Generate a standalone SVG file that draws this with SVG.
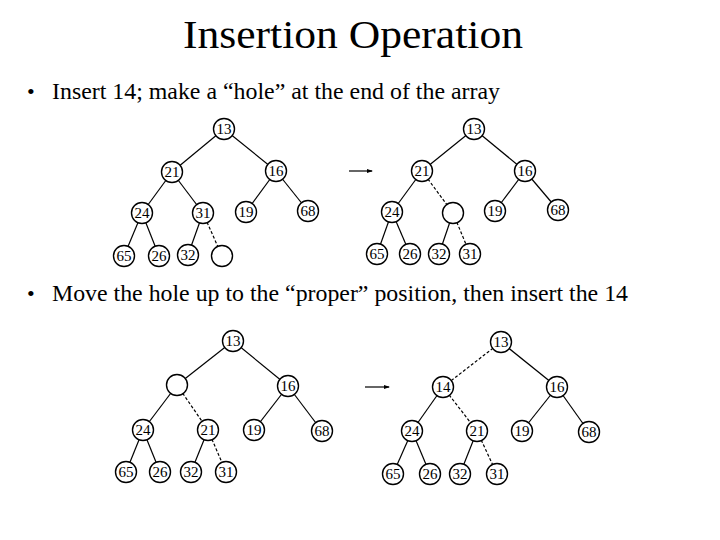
<svg xmlns="http://www.w3.org/2000/svg" width="720" height="540" viewBox="0 0 720 540">
<defs>
<style>
.t{font-family:"Liberation Serif","Times New Roman",serif;fill:#000}
.n circle{fill:#fff;stroke:#000;stroke-width:1.4}
.n text{font-family:"Liberation Serif","Times New Roman",serif;font-size:15px;text-anchor:middle;fill:#000}
.e line{stroke:#000;stroke-width:1.2}
.e line.d{stroke-dasharray:3,2}
</style>
<marker id="ah" markerWidth="6" markerHeight="6" refX="5" refY="3" orient="auto" markerUnits="userSpaceOnUse">
<path d="M0,1 L6,3 L0,5 Z" fill="#000"/>
</marker>
</defs>
<rect width="720" height="540" fill="#fff"/>
<text class="t" x="353" y="48" font-size="40" text-anchor="middle" textLength="340" lengthAdjust="spacingAndGlyphs">Insertion Operation</text>
<text class="t" x="27" y="99" font-size="22">•</text>
<text class="t" x="52" y="99" font-size="23.5" textLength="448" lengthAdjust="spacingAndGlyphs">Insert 14; make a “hole” at the end of the array</text>
<text class="t" x="27" y="301" font-size="22">•</text>
<text class="t" x="52" y="301" font-size="23.5" textLength="576" lengthAdjust="spacingAndGlyphs">Move the hole up to the “proper” position, then insert the 14</text>

<g id="connectors" class="e">
<!-- tree 1 -->
<line x1="224" y1="129" x2="172" y2="172"/>
<line x1="224" y1="129" x2="276" y2="171"/>
<line x1="172" y1="172" x2="142" y2="213"/>
<line x1="172" y1="172" x2="203" y2="213"/>
<line x1="276" y1="171" x2="246" y2="212"/>
<line x1="276" y1="171" x2="308" y2="211"/>
<line x1="142" y1="213" x2="124" y2="256"/>
<line x1="142" y1="213" x2="159" y2="256"/>
<line x1="203" y1="213" x2="188" y2="255"/>
<line class="d" x1="203" y1="213" x2="222" y2="256"/>
<!-- tree 2 -->
<line x1="474" y1="129" x2="422" y2="171"/>
<line x1="474" y1="129" x2="525" y2="171"/>
<line x1="422" y1="171" x2="392" y2="212"/>
<line class="d" x1="422" y1="171" x2="453" y2="213"/>
<line x1="525" y1="171" x2="495" y2="211"/>
<line x1="525" y1="171" x2="558" y2="210"/>
<line x1="392" y1="212" x2="377" y2="254"/>
<line x1="392" y1="212" x2="410" y2="254"/>
<line x1="453" y1="213" x2="439" y2="254"/>
<line class="d" x1="453" y1="213" x2="470" y2="254"/>
<!-- tree 3 -->
<line x1="233" y1="341" x2="177" y2="385"/>
<line x1="233" y1="341" x2="288" y2="386"/>
<line x1="177" y1="385" x2="143" y2="430"/>
<line class="d" x1="177" y1="385" x2="208" y2="430"/>
<line x1="288" y1="386" x2="254" y2="430"/>
<line x1="288" y1="386" x2="322" y2="431"/>
<line x1="143" y1="430" x2="126" y2="472"/>
<line x1="143" y1="430" x2="160" y2="472"/>
<line x1="208" y1="430" x2="191" y2="472"/>
<line class="d" x1="208" y1="430" x2="226" y2="472"/>
<!-- tree 4 -->
<line class="d" x1="501" y1="342" x2="443" y2="387"/>
<line x1="501" y1="342" x2="557" y2="387"/>
<line x1="443" y1="387" x2="412" y2="431"/>
<line class="d" x1="443" y1="387" x2="477" y2="431"/>
<line x1="557" y1="387" x2="522" y2="431"/>
<line x1="557" y1="387" x2="589" y2="432"/>
<line x1="412" y1="431" x2="393" y2="474"/>
<line x1="412" y1="431" x2="430" y2="474"/>
<line x1="477" y1="431" x2="460" y2="474"/>
<line class="d" x1="477" y1="431" x2="497" y2="474"/>
<!-- arrows -->
<line x1="349" y1="171" x2="372" y2="171" marker-end="url(#ah)"/>
<line x1="365" y1="387" x2="389" y2="387" marker-end="url(#ah)"/>
</g>

<!-- tree 1 nodes -->
<g id="t1-13" class="n"><circle cx="224" cy="129" r="10.5"/><text x="224" y="134">13</text></g>
<g id="t1-21" class="n"><circle cx="172" cy="172" r="10.5"/><text x="172" y="177">21</text></g>
<g id="t1-16" class="n"><circle cx="276" cy="171" r="10.5"/><text x="276" y="176">16</text></g>
<g id="t1-24" class="n"><circle cx="142" cy="213" r="10.5"/><text x="142" y="218">24</text></g>
<g id="t1-31" class="n"><circle cx="203" cy="213" r="10.5"/><text x="203" y="218">31</text></g>
<g id="t1-19" class="n"><circle cx="246" cy="212" r="10.5"/><text x="246" y="217">19</text></g>
<g id="t1-68" class="n"><circle cx="308" cy="211" r="10.5"/><text x="308" y="216">68</text></g>
<g id="t1-65" class="n"><circle cx="124" cy="256" r="10.5"/><text x="124" y="261">65</text></g>
<g id="t1-26" class="n"><circle cx="159" cy="256" r="10.5"/><text x="159" y="261">26</text></g>
<g id="t1-32" class="n"><circle cx="188" cy="255" r="10.5"/><text x="188" y="260">32</text></g>
<g id="t1-hole" class="n"><circle cx="222" cy="256" r="10.5"/></g>

<!-- tree 2 nodes -->
<g id="t2-13" class="n"><circle cx="474" cy="129" r="10.5"/><text x="474" y="134">13</text></g>
<g id="t2-21" class="n"><circle cx="422" cy="171" r="10.5"/><text x="422" y="176">21</text></g>
<g id="t2-16" class="n"><circle cx="525" cy="171" r="10.5"/><text x="525" y="176">16</text></g>
<g id="t2-24" class="n"><circle cx="392" cy="212" r="10.5"/><text x="392" y="217">24</text></g>
<g id="t2-hole" class="n"><circle cx="453" cy="213" r="10.5"/></g>
<g id="t2-19" class="n"><circle cx="495" cy="211" r="10.5"/><text x="495" y="216">19</text></g>
<g id="t2-68" class="n"><circle cx="558" cy="210" r="10.5"/><text x="558" y="215">68</text></g>
<g id="t2-65" class="n"><circle cx="377" cy="254" r="10.5"/><text x="377" y="259">65</text></g>
<g id="t2-26" class="n"><circle cx="410" cy="254" r="10.5"/><text x="410" y="259">26</text></g>
<g id="t2-32" class="n"><circle cx="439" cy="254" r="10.5"/><text x="439" y="259">32</text></g>
<g id="t2-31" class="n"><circle cx="470" cy="254" r="10.5"/><text x="470" y="259">31</text></g>

<!-- tree 3 nodes -->
<g id="t3-13" class="n"><circle cx="233" cy="341" r="10.5"/><text x="233" y="346">13</text></g>
<g id="t3-hole" class="n"><circle cx="177" cy="385" r="10.5"/></g>
<g id="t3-16" class="n"><circle cx="288" cy="386" r="10.5"/><text x="288" y="391">16</text></g>
<g id="t3-24" class="n"><circle cx="143" cy="430" r="10.5"/><text x="143" y="435">24</text></g>
<g id="t3-21" class="n"><circle cx="208" cy="430" r="10.5"/><text x="208" y="435">21</text></g>
<g id="t3-19" class="n"><circle cx="254" cy="430" r="10.5"/><text x="254" y="435">19</text></g>
<g id="t3-68" class="n"><circle cx="322" cy="431" r="10.5"/><text x="322" y="436">68</text></g>
<g id="t3-65" class="n"><circle cx="126" cy="472" r="10.5"/><text x="126" y="477">65</text></g>
<g id="t3-26" class="n"><circle cx="160" cy="472" r="10.5"/><text x="160" y="477">26</text></g>
<g id="t3-32" class="n"><circle cx="191" cy="472" r="10.5"/><text x="191" y="477">32</text></g>
<g id="t3-31" class="n"><circle cx="226" cy="472" r="10.5"/><text x="226" y="477">31</text></g>

<!-- tree 4 nodes -->
<g id="t4-13" class="n"><circle cx="501" cy="342" r="10.5"/><text x="501" y="347">13</text></g>
<g id="t4-14" class="n"><circle cx="443" cy="387" r="10.5"/><text x="443" y="392">14</text></g>
<g id="t4-16" class="n"><circle cx="557" cy="387" r="10.5"/><text x="557" y="392">16</text></g>
<g id="t4-24" class="n"><circle cx="412" cy="431" r="10.5"/><text x="412" y="436">24</text></g>
<g id="t4-21" class="n"><circle cx="477" cy="431" r="10.5"/><text x="477" y="436">21</text></g>
<g id="t4-19" class="n"><circle cx="522" cy="431" r="10.5"/><text x="522" y="436">19</text></g>
<g id="t4-68" class="n"><circle cx="589" cy="432" r="10.5"/><text x="589" y="437">68</text></g>
<g id="t4-65" class="n"><circle cx="393" cy="474" r="10.5"/><text x="393" y="479">65</text></g>
<g id="t4-26" class="n"><circle cx="430" cy="474" r="10.5"/><text x="430" y="479">26</text></g>
<g id="t4-32" class="n"><circle cx="460" cy="474" r="10.5"/><text x="460" y="479">32</text></g>
<g id="t4-31" class="n"><circle cx="497" cy="474" r="10.5"/><text x="497" y="479">31</text></g>
</svg>
